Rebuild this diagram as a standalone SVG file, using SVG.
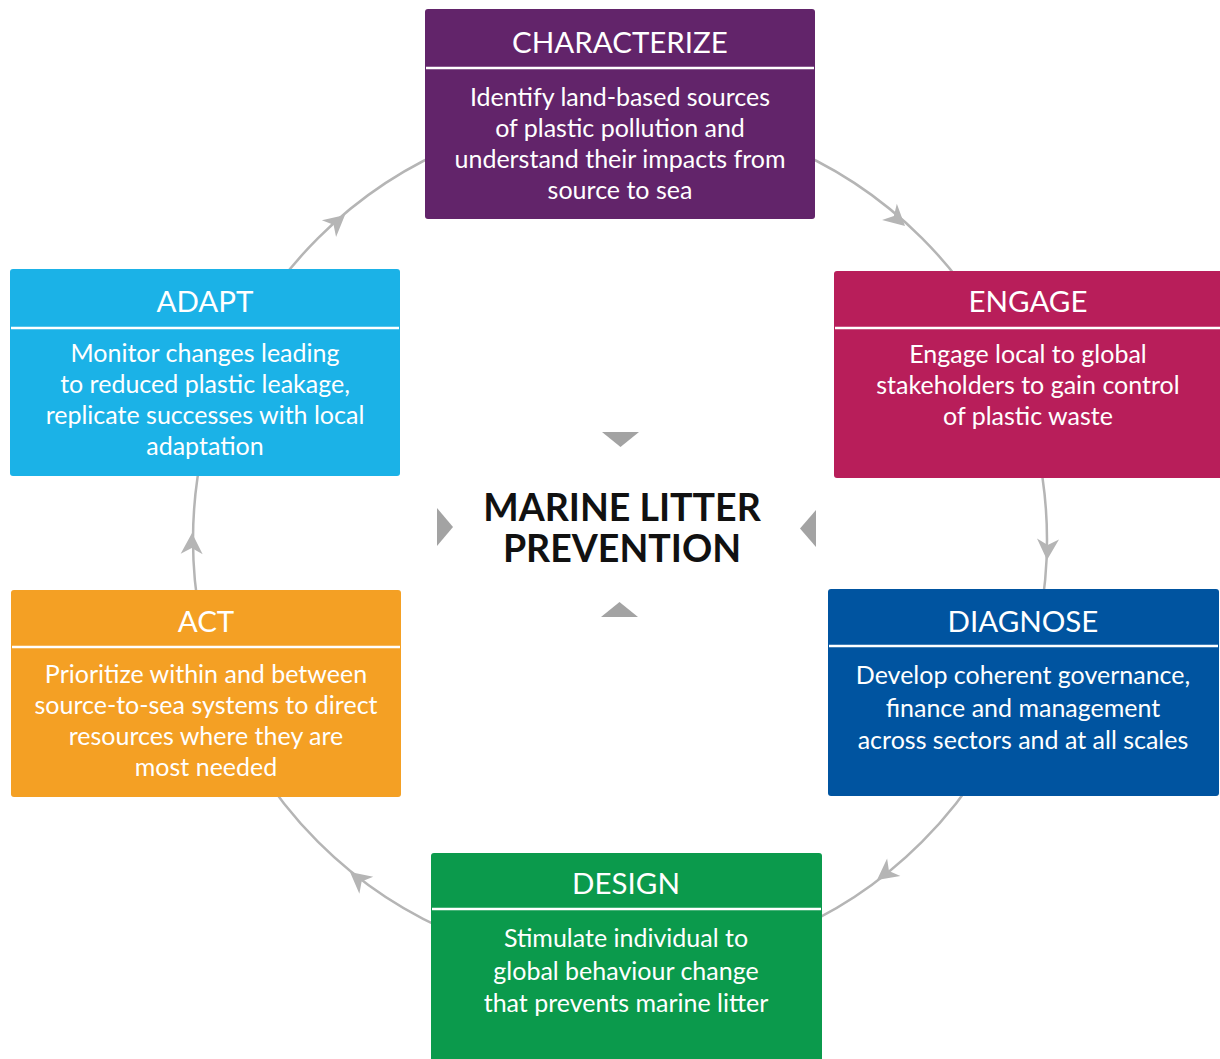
<svg xmlns="http://www.w3.org/2000/svg" width="1220" height="1059" viewBox="0 0 1220 1059">
<defs>
<path id="ah" d="M0,0 L-21,-11 L-15,0 L-21,11 Z" fill="#b5b5b5"/>
</defs>
<style>
.ttl{font-family:Lato,"Open Sans","Liberation Sans",sans-serif;font-size:29.5px;fill:#fff;text-anchor:middle;}
.bd{font-family:Lato,"Open Sans","Liberation Sans",sans-serif;font-size:25px;fill:#fff;text-anchor:middle;}
.div{stroke:#fff;stroke-width:2.5;}
.ctr{font-family:Lato,"Open Sans","Liberation Sans",sans-serif;font-size:37.5px;font-weight:bold;fill:#111;text-anchor:middle;}
.tri{fill:#a3a3a3;}
</style>
<rect width="1220" height="1059" fill="#fff"/>
<g id="connectors">
<circle cx="620" cy="540" r="427" fill="none" stroke="#b5b5b5" stroke-width="2.5"/>
<use href="#ah" transform="translate(905,226) rotate(42.2)"/>
<use href="#ah" transform="translate(1047,560) rotate(92.7)"/>
<use href="#ah" transform="translate(877,880) rotate(142.9)"/>
<use href="#ah" transform="translate(350,872) rotate(219.1)"/>
<use href="#ah" transform="translate(192,533) rotate(270.9)"/>
<use href="#ah" transform="translate(345,215) rotate(319.8)"/>
</g>
<g id="characterize">
<rect x="425" y="9" width="390" height="210" rx="3" fill="#62246a"/>
<line class="div" x1="426" y1="68" x2="814" y2="68"/>
<text class="ttl" x="620" y="53">CHARACTERIZE</text>
<text class="bd" x="620" y="106">Identify land-based sources</text>
<text class="bd" x="620" y="137">of plastic pollution and</text>
<text class="bd" x="620" y="168">understand their impacts from</text>
<text class="bd" x="620" y="199">source to sea</text>
</g>
<g id="engage">
<rect x="834" y="271" width="390" height="207" rx="3" fill="#b81e5a"/>
<line class="div" x1="835" y1="328" x2="1220" y2="328"/>
<text class="ttl" x="1028" y="312">ENGAGE</text>
<text class="bd" x="1028" y="363">Engage local to global</text>
<text class="bd" x="1028" y="394">stakeholders to gain control</text>
<text class="bd" x="1028" y="425">of plastic waste</text>
</g>
<g id="diagnose">
<rect x="828" y="589" width="391" height="207" rx="3" fill="#0054a0"/>
<line class="div" x1="829" y1="646" x2="1218" y2="646"/>
<text class="ttl" x="1023" y="632">DIAGNOSE</text>
<text class="bd" x="1023" y="684">Develop coherent governance,</text>
<text class="bd" x="1023" y="717">finance and management</text>
<text class="bd" x="1023" y="749">across sectors and at all scales</text>
</g>
<g id="design">
<rect x="431" y="853" width="391" height="215" rx="3" fill="#0b9a4c"/>
<line class="div" x1="432" y1="909" x2="821" y2="909"/>
<text class="ttl" x="626" y="894">DESIGN</text>
<text class="bd" x="626" y="947">Stimulate individual to</text>
<text class="bd" x="626" y="980">global behaviour change</text>
<text class="bd" x="626" y="1012">that prevents marine litter</text>
</g>
<g id="act">
<rect x="11" y="590" width="390" height="207" rx="3" fill="#f4a024"/>
<line class="div" x1="12" y1="647" x2="400" y2="647"/>
<text class="ttl" x="206" y="632">ACT</text>
<text class="bd" x="206" y="683">Prioritize within and between</text>
<text class="bd" x="206" y="714">source-to-sea systems to direct</text>
<text class="bd" x="206" y="745">resources where they are</text>
<text class="bd" x="206" y="776">most needed</text>
</g>
<g id="adapt">
<rect x="10" y="269" width="390" height="207" rx="3" fill="#1bb2e7"/>
<line class="div" x1="11" y1="328" x2="399" y2="328"/>
<text class="ttl" x="205" y="312">ADAPT</text>
<text class="bd" x="205" y="362">Monitor changes leading</text>
<text class="bd" x="205" y="393">to reduced plastic leakage,</text>
<text class="bd" x="205" y="424">replicate successes with local</text>
<text class="bd" x="205" y="455">adaptation</text>
</g>
<g id="center">
<polygon class="tri" points="602,432 639,432 620.5,447"/>
<polygon class="tri" points="601,617 638,617 619.5,602"/>
<polygon class="tri" points="437,508 437,546 453,527"/>
<polygon class="tri" points="816,510 816,547 800,528.5"/>
<text class="ctr" x="622" y="521">MARINE LITTER</text>
<text class="ctr" x="622" y="562">PREVENTION</text>
</g>
</svg>
